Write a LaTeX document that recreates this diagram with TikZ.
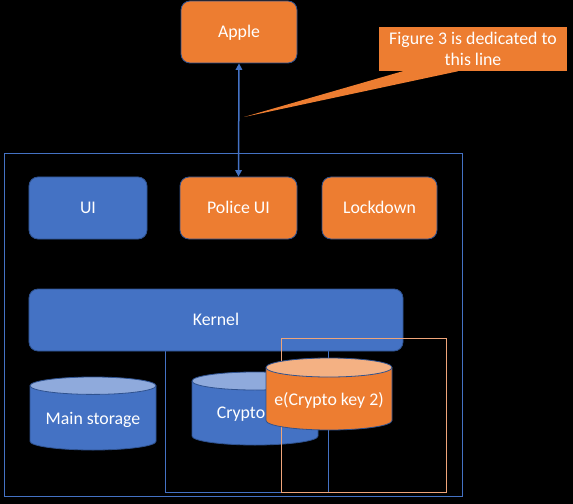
\documentclass[tikz,border=0pt]{standalone}
\usepackage{fontspec}
\setmainfont{Carlito}
\usetikzlibrary{arrows.meta}
\definecolor{pblue}{HTML}{4472C4}
\definecolor{porange}{HTML}{ED7D31}
\definecolor{pedge}{HTML}{2F528F}
\definecolor{ltblue}{HTML}{8FAADC}
\definecolor{ltorange}{HTML}{F4B183}
\definecolor{rectorange}{HTML}{EFA57A}
\newcommand{\mycyl}[7]{%
  \fill[#6] ({#1-#4},{#2+#5}) -- ({#1-#4},{#3-#5}) arc[start angle=180,end angle=360,x radius=#4bp,y radius=#5bp] -- ({#1+#4},{#2+#5}) -- cycle;
  \draw[pedge, line width=0.8bp] ({#1-#4},{#2+#5}) -- ({#1-#4},{#3-#5}) arc[start angle=180,end angle=360,x radius=#4bp,y radius=#5bp] -- ({#1+#4},{#2+#5});
  \filldraw[fill=#7, draw=pedge, line width=0.8bp] (#1,{#2+#5}) ellipse[x radius=#4bp, y radius=#5bp];
}
\begin{document}
\begin{tikzpicture}[x=1bp,y=-1bp,
  every node/.style={font=\fontsize{17.8bp}{21bp}\selectfont, text=white, text height=11.4bp, text depth=0bp},
  box/.style={draw=pedge, line width=0.8bp, rounded corners=9bp, inner sep=0pt},
  bluebox/.style={box, fill=pblue},
  orangebox/.style={box, fill=porange},
  frame/.style={draw=pblue, line width=0.9bp},
  link/.style={draw=pblue, line width=1.5bp, {Triangle[width=6.5bp,length=6.5bp]}-{Triangle[width=6.5bp,length=6.5bp]}},
  label/.style={inner sep=0pt}
]
\fill[black] (0,0) rectangle (573,504);
\useasboundingbox (0,0) rectangle (573,504);
% frames
\draw[frame] (4,153) rectangle (462,496);
\draw[frame] (165,320) rectangle (328,492);
% boxes
\node[orangebox, minimum width=116bp, minimum height=62bp] (apple) at (239,32) {Apple};
\node[bluebox, minimum width=118bp, minimum height=62bp] (ui) at (88,208) {UI};
\node[orangebox, minimum width=117bp, minimum height=62bp] (police) at (238.5,208) {Police UI};
\node[orangebox, minimum width=115bp, minimum height=62bp] (lock) at (379.5,208) {Lockdown};
\node[bluebox, minimum width=374bp, minimum height=62bp] (kernel) at (216,320) {Kernel};
% connector
\draw[link] (apple.south) -- (police.north);
% callout
\node[fill=porange, minimum width=188bp, minimum height=44bp, align=center, inner sep=0pt, text height=32.4bp, text depth=0bp] (note) at (473,49) {Figure 3 is dedicated to\\this line};
\coordinate (tip) at (244,117);
\fill[porange] ([xshift=24bp]note.south west) -- (tip) -- ([xshift=-109bp]note.south east) -- cycle;
% cylinders
\mycyl{93}{377}{450}{63}{8.7}{pblue}{ltblue}
\node[label] (mainst) at (93,419) {Main storage};
\mycyl{255}{372}{445}{63}{9}{pblue}{ltblue}
\node[label] (crypto1) at (241,413) {Crypto};
\draw[rectorange, line width=0.8bp] (281,338) rectangle (446,492);
\mycyl{329}{358}{430}{63}{9.5}{porange}{ltorange}
\node[label] (crypto2) at (329,400) {e(Crypto key 2)};
\end{tikzpicture}
\end{document}
